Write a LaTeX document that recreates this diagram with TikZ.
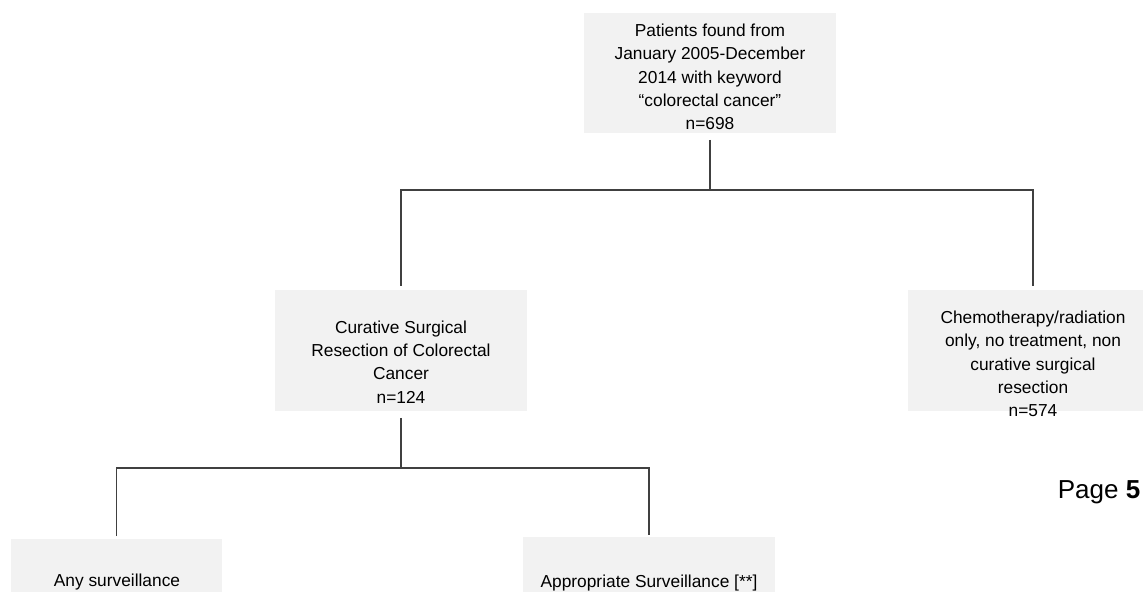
\documentclass[tikz,border=0pt]{standalone}
\usepackage{fontspec}
\setmainfont{Liberation Sans}
\usepackage{tikz}
\definecolor{boxgray}{HTML}{F2F2F2}
\definecolor{linegray}{HTML}{404040}
\tikzset{
  flowbox/.style={fill=boxgray, draw=none, inner sep=0pt},
  flowtext/.style={align=center, font=\fontsize{13}{17.5}\selectfont, inner sep=0pt},
  link/.style={draw=linegray, line width=0.8pt},
}

\begin{document}
\begin{tikzpicture}[x=0.75pt,y=-0.75pt]
\path[use as bounding box, clip] (0,0) rectangle (1143,592);
% Boxes
\node[flowbox, minimum width=189pt, minimum height=90pt] (top) at (710,73) {};
\node[flowbox, minimum width=189pt, minimum height=90.75pt] (cure) at (401,350.5) {};
\node[flowbox, minimum width=187.5pt, minimum height=90.75pt] (chemo) at (1033,350.5) {};
\node[flowbox, minimum width=158.25pt, minimum height=90pt] (any) at (116.5,599) {};
\node[flowbox, minimum width=189pt, minimum height=90pt] (appr) at (649,597) {};
% Texts
\node[flowtext] (toptxt) at (710,77) {Patients found from\\January 2005-December\\2014 with keyword\\``colorectal cancer''\\n=698};
\node[flowtext] (curetxt) at (401,362) {Curative Surgical\\Resection of Colorectal\\Cancer\\n=124};
\node[flowtext] (chemotxt) at (1033,364) {Chemotherapy/radiation\\only, no treatment, non\\curative surgical\\resection\\n=574};
\node[flowtext] (anytxt) at (117,582) {Any surveillance};
\node[flowtext] (apprtxt) at (649,583) {Appropriate Surveillance [**]};
\node[font=\fontsize{19.5}{23}\selectfont, anchor=base, inner sep=0pt] (page) at (1099,498) {Page \textbf{5}};
% Links
\coordinate (split1) at (710,190);
\coordinate (split2) at (401,468);
\draw[link] ([yshift=-5pt]top.south) -- (split1);
\draw[link] ([yshift=3pt]cure.north) |- (split1) -| ([yshift=3pt]chemo.north);
\draw[link] ([yshift=-5pt]cure.south) -- (split2);
\draw[link] ([yshift=2pt]any.north) |- (split2) -| ([yshift=1pt]appr.north);
\end{tikzpicture}
\end{document}
